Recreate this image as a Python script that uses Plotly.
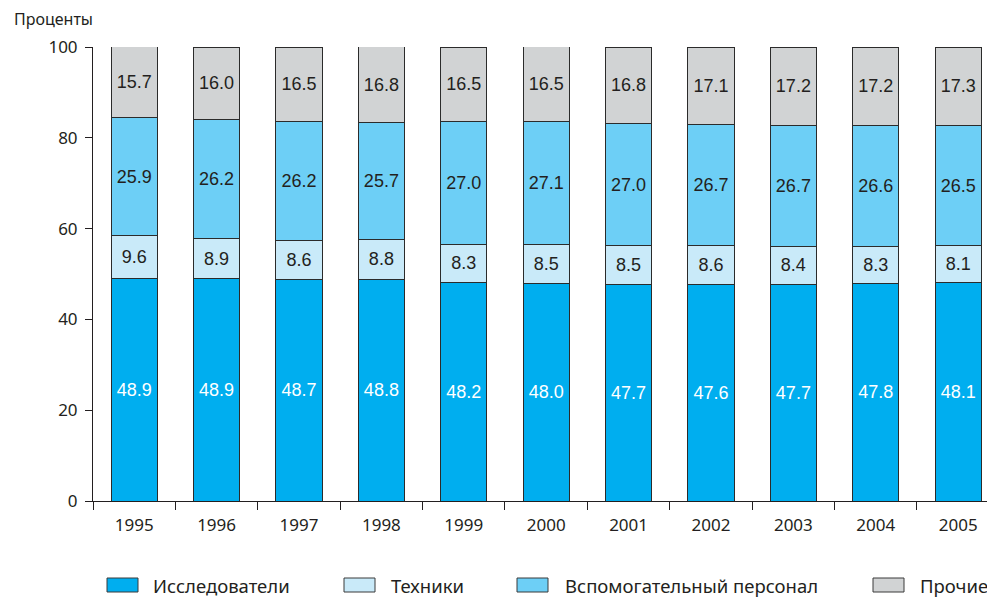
import plotly.graph_objects as go

years = ["1995", "1996", "1997", "1998", "1999", "2000", "2001", "2002", "2003", "2004", "2005"]
researchers = [48.9, 48.9, 48.7, 48.8, 48.2, 48.0, 47.7, 47.6, 47.7, 47.8, 48.1]
technicians = [9.6, 8.9, 8.6, 8.8, 8.3, 8.5, 8.5, 8.6, 8.4, 8.3, 8.1]
support = [25.9, 26.2, 26.2, 25.7, 27.0, 27.1, 27.0, 26.7, 26.7, 26.6, 26.5]
other = [15.7, 16.0, 16.5, 16.8, 16.5, 16.5, 16.8, 17.1, 17.2, 17.2, 17.3]

names = ["Исследователи", "Техники", "Вспомогательный персонал", "Прочие"]
colors = ["#00AEEF", "#C9EAF9", "#6DCFF6", "#D1D3D4"]
text_colors = ["#FFFFFF", "#231F20", "#231F20", "#231F20"]
series = [researchers, technicians, support, other]
y_ticks = [0, 20, 40, 60, 80, 100]

# page body adds an 8px margin; work in reference pixels and shift
O = 8
W, H = 995 - O, 597 - O
L, R, T, B = 93 - O, 995 - O, 47 - O, 501 - O

def px(x):
    return (x - O - L) / (R - L)

def py(y):
    return (B - (y - O)) / (B - T)

label_font = "Liberation Sans Narrow, Arial Narrow, Liberation Sans, Arial, sans-serif"
axis_font = "Noto Sans, Open Sans, sans-serif"

xs = list(range(len(years)))
fig = go.Figure()
for name, vals, col, tcol in zip(names, series, colors, text_colors):
    fig.add_trace(go.Bar(
        x=xs, y=vals, name=name,
        marker=dict(color=col, line=dict(color="#2b2b2b", width=1)),
        width=0.56,
        texttemplate="%{y:.1f}", textposition="inside", insidetextanchor="middle",
        textangle=0, constraintext="none",
        textfont=dict(family=label_font, size=18, color=tcol),
        showlegend=False, hoverinfo="skip",
    ))

ncat = len(years)

fig.update_layout(
    barmode="stack",
    width=W, height=H,
    margin=dict(l=L, r=W - R, t=T, b=H - B, pad=0),
    plot_bgcolor="white", paper_bgcolor="white",
    font=dict(family=axis_font, size=16, color="#231F20"),
    xaxis=dict(
        range=[-0.5, 10.447],
        tickmode="array", tickvals=xs, ticktext=years,
        ticks="", showgrid=False, zeroline=False,
        showline=True, linecolor="#231F20", linewidth=1,
        tickfont=dict(family=axis_font, size=17, color="#231F20"),
        ticklabelstandoff=9,
        minor=dict(ticks="outside", tickmode="array",
                   tickvals=[i - 0.5 for i in range(ncat)],
                   ticklen=8, tickcolor="#231F20", tickwidth=1, showgrid=False),
    ),
    yaxis=dict(
        range=[0, 100],
        tickmode="array", tickvals=y_ticks,
        ticks="outside", ticklen=7, tickcolor="#231F20", tickwidth=1,
        showgrid=False, zeroline=False,
        showline=True, linecolor="#231F20", linewidth=1,
        tickfont=dict(family=axis_font, size=17, color="#231F20"),
        ticklabelstandoff=4,
    ),
)

fig.add_annotation(
    text="Проценты", xref="paper", yref="paper",
    x=px(12), y=py(19), xanchor="left", yanchor="middle",
    showarrow=False, font=dict(family=axis_font, size=16, color="#231F20"),
)

legend_sq = [107, 344, 517, 873]
legend_tx = [151, 389, 563, 918]
for name, col, sx, tx in zip(names, colors, legend_sq, legend_tx):
    fig.add_shape(type="rect", xref="paper", yref="paper",
                  x0=px(sx), x1=px(sx + 31), y0=py(592), y1=py(578),
                  fillcolor=col, line=dict(color="#3a3a3a", width=1))
    fig.add_annotation(text=name, xref="paper", yref="paper",
                       x=px(tx), y=py(585), xanchor="left", yanchor="middle",
                       showarrow=False,
                       font=dict(family=axis_font, size=18.5, color="#231F20"))

fig.write_html("out.html")
